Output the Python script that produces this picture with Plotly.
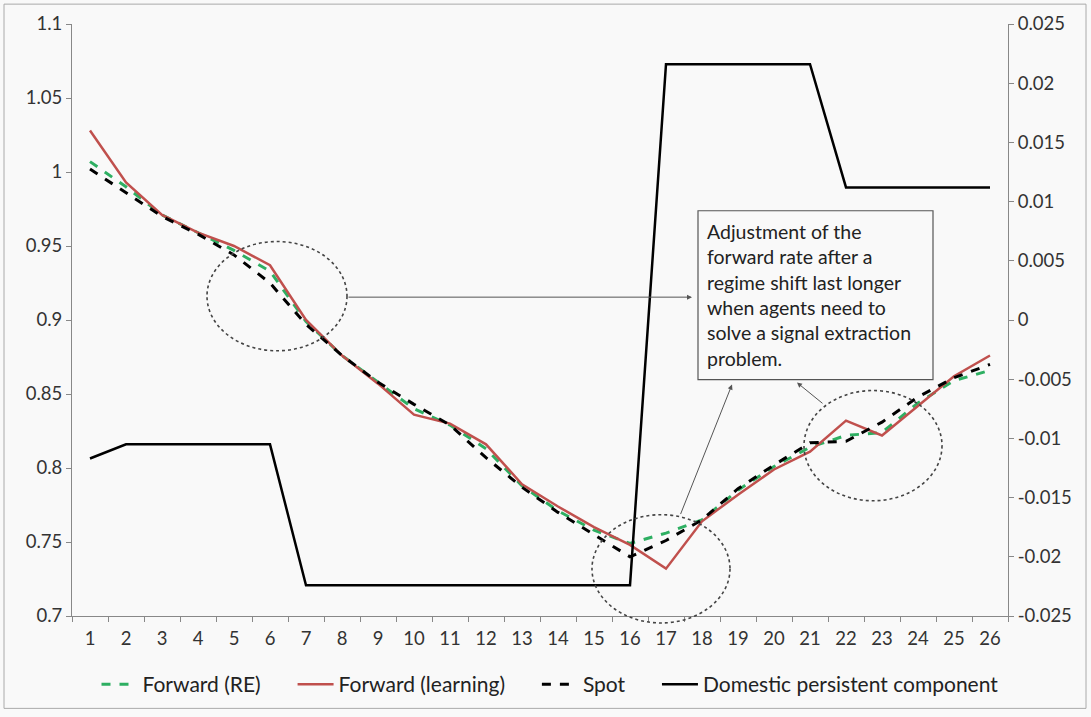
import plotly.graph_objects as go

periods = [str(i) for i in range(1, 27)]
forward_re = [1.007, 0.990, 0.971, 0.959, 0.947, 0.933, 0.899, 0.876, 0.858, 0.840,
              0.829, 0.813, 0.788, 0.771, 0.758, 0.749, 0.756, 0.765, 0.785, 0.801,
              0.814, 0.822, 0.824, 0.844, 0.859, 0.866]
forward_learning = [1.028, 0.993, 0.971, 0.959, 0.950, 0.937, 0.900, 0.876, 0.857, 0.836,
                    0.830, 0.816, 0.789, 0.774, 0.760, 0.748, 0.732, 0.764, 0.782, 0.799,
                    0.811, 0.832, 0.822, 0.842, 0.862, 0.876]
spot = [1.002, 0.986, 0.970, 0.958, 0.944, 0.925, 0.897, 0.876, 0.858, 0.843,
        0.829, 0.807, 0.787, 0.770, 0.755, 0.740, 0.751, 0.765, 0.786, 0.802,
        0.817, 0.818, 0.831, 0.848, 0.861, 0.870]
domestic = [-0.0117, -0.0105, -0.0105, -0.0105, -0.0105, -0.0105, -0.0224, -0.0224, -0.0224, -0.0224,
            -0.0224, -0.0224, -0.0224, -0.0224, -0.0224, -0.0224, 0.0216, 0.0216, 0.0216, 0.0216,
            0.0216, 0.0112, 0.0112, 0.0112, 0.0112, 0.0112]

left_ticks = [0.7, 0.75, 0.8, 0.85, 0.9, 0.95, 1.0, 1.05, 1.1]
left_labels = ["0.7", "0.75", "0.8", "0.85", "0.9", "0.95", "1", "1.05", "1.1"]
right_ticks = [-0.025, -0.02, -0.015, -0.01, -0.005, 0, 0.005, 0.01, 0.015, 0.02, 0.025]
right_labels = ["-0.025", "-0.02", "-0.015", "-0.01", "-0.005", "0", "0.005", "0.01", "0.015", "0.02", "0.025"]

note = ("Adjustment of the<br>forward rate after a<br>regime shift last longer<br>"
        "when agents need to<br>solve a signal extraction<br>problem.")

FONT = "Lato"
W, H = 1091, 717
L, R, T, B = 72, 1008, 24, 620
GAP = "\u00a0" * 5


def px(x):
    return (x - L) / (R - L)


def py(y):
    return (B - y) / (B - T)


fig = go.Figure()
fig.add_trace(go.Scatter(x=periods, y=forward_re, name="Forward (RE)" + GAP, mode="lines",
                         line=dict(color="#2EAF62", width=3, dash="dash")))
fig.add_trace(go.Scatter(x=periods, y=forward_learning, name="Forward (learning)" + GAP, mode="lines",
                         line=dict(color="#C0504D", width=2.5)))
fig.add_trace(go.Scatter(x=periods, y=spot, name="Spot" + GAP, mode="lines",
                         line=dict(color="#000000", width=3, dash="dash")))
fig.add_trace(go.Scatter(x=periods, y=domestic, name="Domestic persistent component", mode="lines",
                         yaxis="y2", line=dict(color="#000000", width=2.5)))

shapes = []
# dotted ellipses
for (x0, y0, x1, y1) in [(207, 243, 347, 353), (592, 518, 730, 627), (804, 393, 942, 504)]:
    shapes.append(dict(type="circle", xref="paper", yref="paper",
                       x0=px(x0), x1=px(x1), y0=py(y1), y1=py(y0),
                       line=dict(color="#444444", width=1.6, dash="dot")))
# outer chart border
shapes.append(dict(type="rect", xref="paper", yref="paper",
                   x0=px(4), x1=px(1086), y0=py(713), y1=py(4),
                   line=dict(color="#AAAAAA", width=1)))
# note box
shapes.append(dict(type="rect", xref="paper", yref="paper",
                   x0=px(698), x1=px(933), y0=py(382), y1=py(212),
                   line=dict(color="#555555", width=1.2), fillcolor="#F9F9F9"))

annotations = [
    dict(xref="paper", yref="paper", x=px(705), y=py(297), xanchor="left", yanchor="middle",
         text=note, showarrow=False, align="left",
         font=dict(family=FONT, size=19.5, color="#222222")),
    dict(xref="paper", yref="paper", x=px(692), y=py(299), ax=347 - 692, ay=0,
         showarrow=True, arrowhead=2, arrowsize=1, arrowwidth=1, arrowcolor="#555555", text=""),
    dict(xref="paper", yref="paper", x=px(732), y=py(387), ax=680 - 732, ay=518 - 387,
         showarrow=True, arrowhead=2, arrowsize=1, arrowwidth=1, arrowcolor="#555555", text=""),
    dict(xref="paper", yref="paper", x=px(797), y=py(385), ax=824 - 797, ay=407 - 385,
         showarrow=True, arrowhead=2, arrowsize=1, arrowwidth=1, arrowcolor="#555555", text=""),
]

fig.update_layout(
    width=W, height=H,
    margin=dict(l=L, r=W - R, t=T, b=H - B),
    paper_bgcolor="#F9F9F9", plot_bgcolor="#F9F9F9",
    font=dict(family=FONT, size=18, color="#333333"),
    showlegend=True,
    legend=dict(orientation="h", x=px(550), xanchor="center", y=py(689), yanchor="middle",
                font=dict(family=FONT, size=21, color="#222222"), bgcolor="rgba(0,0,0,0)",
                itemwidth=36, tracegroupgap=0),
    xaxis=dict(type="category", range=[-0.5, 25.5], showgrid=False, zeroline=False,
               showline=True, linecolor="#888888", linewidth=1,
               ticks="outside", tickson="boundaries", ticklen=5, tickcolor="#888888",
               ticklabelstandoff=6,
               tickfont=dict(family=FONT, size=18.5, color="#333333")),
    yaxis=dict(range=[0.7, 1.1], tickvals=left_ticks, ticktext=left_labels,
               showgrid=False, zeroline=False, showline=True, linecolor="#888888", linewidth=1,
               ticks="outside", ticklen=5, tickcolor="#888888",
               tickfont=dict(family=FONT, size=18.5, color="#333333")),
    yaxis2=dict(range=[-0.025, 0.025], tickvals=right_ticks, ticktext=right_labels,
                overlaying="y", side="right", showgrid=False, zeroline=False,
                showline=True, linecolor="#888888", linewidth=1,
                ticks="outside", ticklen=5, tickcolor="#888888",
                tickfont=dict(family=FONT, size=18.5, color="#333333")),
    shapes=shapes,
    annotations=annotations,
)

fig.write_html("out.html", config={"displayModeBar": False},
               post_script="document.body.style.margin='0px';document.body.style.overflow='hidden';")
